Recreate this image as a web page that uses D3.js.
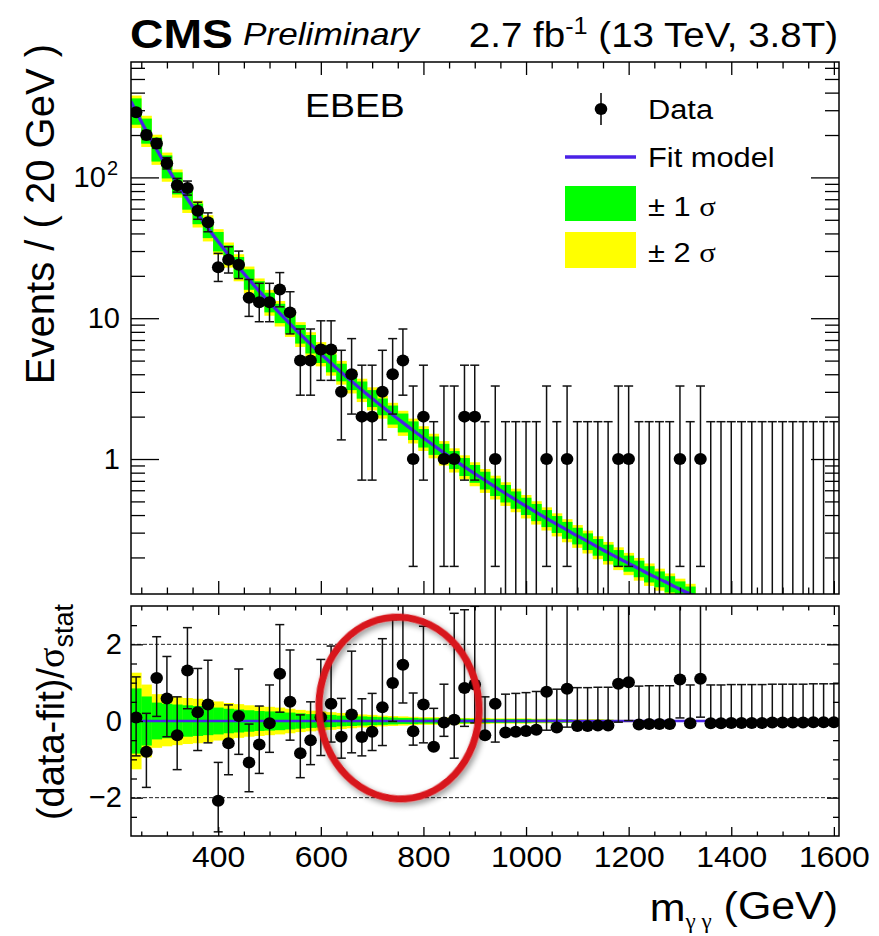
<!DOCTYPE html>
<html><head><meta charset="utf-8">
<script src="https://cdn.jsdelivr.net/npm/d3@7"></script>
<style>
body{margin:0;background:#fff}
svg{display:block}
text{font-family:"Liberation Sans",Arial,Helvetica,sans-serif;fill:#000}
</style>
</head><body>
<svg id="chart" width="879" height="936"></svg>
<script>
// Diphoton invariant-mass spectrum, EBEB category, 20 GeV bins from 230 GeV
const binLow = 230, binWidth = 20;
const counts = [290,200,174,126,88,84,58,48,23,26,
                24,14,13,13,16,11,5,5,6,6,
                3,4,2,2,3,4,5,1,2,0,
                1,1,2,2,0,1,0,0,0,0,
                1,0,1,0,0,0,0,1,1,0,
                0,0,0,1,0,1,0,0,0,0,
                0,0,0,0,0,0,0,0,0];
// (data - fit) / sigma_stat per bin
const pulls = [0.09,-0.80,1.12,0.59,-0.37,1.32,0.23,0.43,-2.08,-0.58,
               0.13,-1.08,-0.61,-0.06,1.23,0.50,-0.84,-0.50,0.10,0.45,
               -0.41,0.17,-0.42,-0.28,0.36,0.99,1.47,-0.27,0.43,-0.67,
               -0.04,0.03,0.86,0.95,-0.37,0.45,-0.30,-0.28,-0.26,-0.23,
               0.76,-0.17,0.84,-0.13,-0.13,-0.12,-0.12,0.97,1.01,-0.09,
               -0.08,-0.08,-0.08,1.08,-0.06,1.10,-0.06,-0.06,-0.05,-0.05,
               -0.05,-0.05,-0.04,-0.04,-0.04,-0.04,-0.03,-0.03,-0.03];
// fit model (events / 20 GeV) at bin edges 230, 250, ..., 1330 GeV
const fitValues = [346.7,249.1,182.7,136.4,103.5,79.7,62.1,48.96,38.99,31.35,
                   25.42,20.78,17.11,14.18,11.83,9.92,8.37,7.10,6.04,5.17,
                   4.44,3.833,3.319,2.884,2.515,2.199,1.930,1.698,1.499,1.326,
                   1.176,1.045,0.932,0.832,0.745,0.668,0.600,0.540,0.487,0.440,
                   0.398,0.361,0.328,0.298,0.272,0.248,0.226,0.207,0.189,0.174,
                   0.159,0.146,0.135,0.124,0.114,0.106];
// relative fit uncertainty per bin in the spectrum panel (1 sigma, 2 sigma)
const bandInnerRel = [0.05,0.05,0.05,0.05,0.05,0.05,0.05,0.05,0.05,0.05,
                      0.07,0.07,0.07,0.07,0.07,0.07,0.07,0.07,0.07,0.07,
                      0.07,0.07,0.07,0.07,0.07,0.09,0.09,0.09,0.09,0.09,
                      0.09,0.09,0.09,0.09,0.09,0.09,0.09,0.09,0.09,0.09,
                      0.09,0.09,0.09,0.09,0.09,0.09,0.09,0.09,0.09,0.09,
                      0.09,0.09,0.09,0.09,0.09];
const bandOuterRel = [0.10,0.10,0.10,0.10,0.10,0.10,0.10,0.10,0.10,0.10,
                      0.12,0.12,0.12,0.12,0.12,0.12,0.12,0.12,0.12,0.12,
                      0.12,0.12,0.12,0.12,0.12,0.14,0.14,0.14,0.14,0.14,
                      0.14,0.14,0.14,0.14,0.14,0.14,0.14,0.14,0.14,0.14,
                      0.14,0.14,0.14,0.14,0.14,0.14,0.14,0.14,0.14,0.14,
                      0.14,0.14,0.14,0.14,0.14];
// fit uncertainty in units of sigma_stat per bin (1 sigma, 2 sigma)
const pullBandInner = [0.85,0.64,0.48,0.45,0.43,0.41,0.39,0.37,0.35,0.32,
                       0.30,0.28,0.26,0.25,0.24,0.22,0.20,0.18,0.17,0.16,
                       0.14,0.13,0.12,0.11,0.10,0.09,0.08,0.08,0.07,0.07,
                       0.06,0.06,0.06,0.05,0.05,0.05,0.05,0.05,0.05,0.04,
                       0.04,0.04,0.04,0.03,0.03,0.03,0.03,0.02,0.02,0.015,
                       0.015,0.015,0.015,0.015,0.015,0,0,0,0,0,
                       0,0,0,0,0,0,0,0,0];
const pullBandOuter = [1.26,0.95,0.70,0.66,0.63,0.60,0.58,0.55,0.51,0.47,
                       0.44,0.41,0.39,0.37,0.35,0.32,0.29,0.27,0.25,0.23,
                       0.21,0.19,0.17,0.16,0.14,0.13,0.12,0.11,0.10,0.10,
                       0.09,0.09,0.08,0.08,0.08,0.07,0.07,0.07,0.07,0.06,
                       0.06,0.06,0.05,0.05,0.05,0.05,0.04,0.03,0.03,0.02,
                       0.02,0.02,0.02,0.02,0.02,0,0,0,0,0,
                       0,0,0,0,0,0,0,0,0];
const xMajorTicks = [400,600,800,1000,1200,1400,1600];
const yUpperMajor = [1,10,100];
const yLowerMajor = [-2,0,2];

const COL_GREEN = "#00ff00", COL_YELLOW = "#ffff00", COL_FIT = "#4a22e6";
const DOT_RX = 6.3, DOT_RY = 6.0;

// ---- Poisson (Garwood) 68% intervals for the data error bars ----
const logFact = [0];
for (let k = 1; k <= 400; k++) logFact[k] = logFact[k-1] + Math.log(k);
function poisCdf(n, mu) {
  if (mu <= 0) return 1;
  let s = 0; const lm = Math.log(mu);
  for (let k = 0; k <= n; k++) s += Math.exp(-mu + k*lm - logFact[k]);
  return s;
}
function solveMu(n, target) {
  let lo = 0, hi = n + 20*Math.sqrt(n+1) + 20;
  for (let it = 0; it < 80; it++) {
    const mid = (lo+hi)/2;
    if (poisCdf(n, mid) > target) lo = mid; else hi = mid;
  }
  return (lo+hi)/2;
}
const ALPHA = 0.158655;
function poisErr(n) {
  const up = solveMu(n, ALPHA) - n;
  const dn = n > 0 ? n - solveMu(n-1, 1-ALPHA) : 0;
  return {up, dn};
}

const bins = counts.map((n, i) => {
  const e = poisErr(n);
  return {i, n, m: binLow + binWidth*(i+0.5), lo: binLow + binWidth*i, hi: binLow + binWidth*(i+1),
          up: e.up, dn: e.dn, pull: pulls[i]};
});
const fitPts = fitValues.map((v, k) => ({m: binLow + binWidth*k, v}));

// ---- layout ----
const svg = d3.select("#chart");
const L = 131, R = 839;
const UT = 62, UB = 594, LT = 606, LB = 836;
const x = d3.scaleLinear().domain([230, 1610]).range([L, R]);
const yU = d3.scaleLog().domain([0.11, 660]).range([UB, UT]);
const yL = d3.scaleLinear().domain([-3, 3]).range([LB, LT]);

const defs = svg.append("defs");
defs.append("clipPath").attr("id","clipU").append("rect").attr("x",L).attr("y",UT).attr("width",R-L).attr("height",UB-UT);
defs.append("clipPath").attr("id","clipL").append("rect").attr("x",L).attr("y",LT).attr("width",R-L).attr("height",LB-LT);
const shadow = defs.append("filter").attr("id","shadow").attr("x","-20%").attr("y","-20%").attr("width","140%").attr("height","140%");
shadow.append("feGaussianBlur").attr("in","SourceAlpha").attr("stdDeviation",3).attr("result","b");
shadow.append("feOffset").attr("in","b").attr("dx",2).attr("dy",3).attr("result","o");
shadow.append("feComponentTransfer").attr("in","o").attr("result","s").append("feFuncA").attr("type","linear").attr("slope",0.45);
const mg = shadow.append("feMerge");
mg.append("feMergeNode").attr("in","s");
mg.append("feMergeNode").attr("in","SourceGraphic");

// ================= upper panel =================
const up = svg.append("g").attr("clip-path","url(#clipU)");
const fitBins = bins.filter(b => b.i < fitValues.length - 1);
function bandRects(rel, color) {
  up.append("g").selectAll("rect").data(fitBins).join("rect")
    .attr("x", b => x(b.lo)).attr("width", b => x(b.hi) - x(b.lo) + 0.3)
    .attr("y", b => yU(fitValues[b.i] * (1 + rel[b.i])))
    .attr("height", b => yU(fitValues[b.i+1] * (1 - rel[b.i])) - yU(fitValues[b.i] * (1 + rel[b.i])))
    .attr("fill", color);
}
bandRects(bandOuterRel, COL_YELLOW);
bandRects(bandInnerRel, COL_GREEN);

up.append("path").datum(fitPts)
  .attr("d", d3.line().x(d => x(d.m)).y(d => yU(d.v)).curve(d3.curveMonotoneX))
  .attr("fill","none").attr("stroke",COL_FIT).attr("stroke-width",3.2);

const capW = 4.5;
const eu = up.append("g").attr("stroke","#111").attr("stroke-width",1.5);
bins.forEach(b => {
  const yTop = yU(b.n + b.up);
  const yBot = b.n - b.dn > 0 ? yU(b.n - b.dn) : UB + 20;
  eu.append("line").attr("x1",x(b.m)).attr("x2",x(b.m)).attr("y1",yTop).attr("y2",yBot);
  eu.append("line").attr("x1",x(b.m)-capW).attr("x2",x(b.m)+capW).attr("y1",yTop).attr("y2",yTop);
  if (b.n - b.dn > 0)
    eu.append("line").attr("x1",x(b.m)-capW).attr("x2",x(b.m)+capW).attr("y1",yBot).attr("y2",yBot);
});
up.append("g").selectAll("ellipse").data(bins.filter(b => b.n > 0)).join("ellipse")
  .attr("cx", b => x(b.m)).attr("cy", b => yU(b.n)).attr("rx",DOT_RX).attr("ry",DOT_RY).attr("fill","#000");

// ================= lower panel =================
const lo = svg.append("g").attr("clip-path","url(#clipL)");
lo.append("g").selectAll("rect").data(bins.filter(b => pullBandOuter[b.i] > 0)).join("rect")
  .attr("x", b => x(b.lo)).attr("width", b => x(b.hi)-x(b.lo)+0.3)
  .attr("y", b => yL(pullBandOuter[b.i])).attr("height", b => yL(-pullBandOuter[b.i]) - yL(pullBandOuter[b.i]))
  .attr("fill", COL_YELLOW);
lo.append("g").selectAll("rect").data(bins.filter(b => pullBandInner[b.i] > 0)).join("rect")
  .attr("x", b => x(b.lo)).attr("width", b => x(b.hi)-x(b.lo)+0.3)
  .attr("y", b => yL(pullBandInner[b.i])).attr("height", b => yL(-pullBandInner[b.i]) - yL(pullBandInner[b.i]))
  .attr("fill", COL_GREEN);
lo.append("line").attr("x1",L).attr("x2",R).attr("y1",yL(0)).attr("y2",yL(0))
  .attr("stroke",COL_FIT).attr("stroke-width",2.6);
[-2, 2].forEach(v => lo.append("line").attr("x1",L).attr("x2",R).attr("y1",yL(v)).attr("y2",yL(v))
  .attr("stroke","#222").attr("stroke-width",1).attr("stroke-dasharray","4,2"));

const el = lo.append("g").attr("stroke","#111").attr("stroke-width",1.5);
bins.forEach(b => {
  const sig = (b.n > 0 && b.pull >= 0) ? b.dn : b.up;
  const top = b.pull + b.up/sig, bot = b.pull - b.dn/sig;
  const xm = x(b.m);
  el.append("line").attr("x1",xm).attr("x2",xm).attr("y1",yL(top)).attr("y2",yL(bot));
  el.append("line").attr("x1",xm-capW).attr("x2",xm+capW).attr("y1",yL(top)).attr("y2",yL(top));
  el.append("line").attr("x1",xm-capW).attr("x2",xm+capW).attr("y1",yL(bot)).attr("y2",yL(bot));
});
lo.append("g").selectAll("ellipse").data(bins).join("ellipse")
  .attr("cx", b => x(b.m)).attr("cy", b => yL(b.pull)).attr("rx",DOT_RX).attr("ry",DOT_RY).attr("fill","#000");

// ================= frames and axes =================
[[UT,UB],[LT,LB]].forEach(([t,b]) => svg.append("rect").attr("x",L).attr("y",t).attr("width",R-L).attr("height",b-t)
  .attr("fill","none").attr("stroke","#000").attr("stroke-width",1.5));

const xMinor = d3.range(250, 1601, 50).filter(v => !xMajorTicks.includes(v));
function styleAxis(g) { g.select(".domain").remove(); g.selectAll("line").attr("stroke","#000").attr("stroke-width",1.3); }
function xAxes(top, bottom, majLen, minLen, labels) {
  svg.append("g").attr("transform",`translate(0,${bottom})`)
    .call(d3.axisBottom(x).tickValues(xMinor).tickSize(-minLen).tickFormat("")).call(styleAxis);
  svg.append("g").attr("transform",`translate(0,${top})`)
    .call(d3.axisTop(x).tickValues(xMinor).tickSize(-minLen).tickFormat("")).call(styleAxis);
  svg.append("g").attr("transform",`translate(0,${top})`)
    .call(d3.axisTop(x).tickValues(xMajorTicks).tickSize(-majLen).tickFormat("")).call(styleAxis);
  const gb = svg.append("g").attr("transform",`translate(0,${bottom})`)
    .call(d3.axisBottom(x).tickValues(xMajorTicks).tickSize(-majLen).tickPadding(10)
      .tickFormat(labels ? d3.format("d") : "")).call(styleAxis);
  gb.selectAll("text").attr("font-size",29).attr("font-family","Liberation Sans, Arial, sans-serif")
    .attr("transform","scale(1.1,1)");
}
xAxes(UT, UB, 13, 6.5, false);
xAxes(LT, LB, 9, 4.5, true);

// upper y (log)
const yUMinor = [];
[0.1, 1, 10, 100].forEach(d => { for (let k = 2; k <= 9; k++) { const v = d*k; if (v > 0.11 && v < 660) yUMinor.push(v); } });
svg.append("g").attr("transform",`translate(${L},0)`)
  .call(d3.axisLeft(yU).tickValues(yUMinor).tickSize(-14).tickFormat("")).call(styleAxis);
svg.append("g").attr("transform",`translate(${R},0)`)
  .call(d3.axisRight(yU).tickValues(yUMinor).tickSize(-14).tickFormat("")).call(styleAxis);
svg.append("g").attr("transform",`translate(${R},0)`)
  .call(d3.axisRight(yU).tickValues(yUpperMajor).tickSize(-28).tickFormat("")).call(styleAxis);
const gyu = svg.append("g").attr("transform",`translate(${L},0)`)
  .call(d3.axisLeft(yU).tickValues(yUpperMajor).tickSize(-28).tickPadding(11).tickFormat(d => d === 100 ? "10" : String(d)))
  .call(styleAxis);
gyu.selectAll("text").attr("font-size",29).attr("font-family","Liberation Sans, Arial, sans-serif");
gyu.selectAll(".tick").filter(d => d === 100).select("text")
  .attr("x", -13).append("tspan").attr("font-size",20).attr("dy","-0.62em").attr("dx","1").text("2");

// lower y
const yLMinor = d3.range(-3, 3.01, 0.5).filter(v => !yLowerMajor.includes(v) && Math.abs(v) < 3);
svg.append("g").attr("transform",`translate(${L},0)`)
  .call(d3.axisLeft(yL).tickValues(yLMinor).tickSize(-6).tickFormat("")).call(styleAxis);
svg.append("g").attr("transform",`translate(${R},0)`)
  .call(d3.axisRight(yL).tickValues(yLMinor).tickSize(-6).tickFormat("")).call(styleAxis);
svg.append("g").attr("transform",`translate(${R},0)`)
  .call(d3.axisRight(yL).tickValues(yLowerMajor).tickSize(-12).tickFormat("")).call(styleAxis);
const gyl = svg.append("g").attr("transform",`translate(${L},0)`)
  .call(d3.axisLeft(yL).tickValues(yLowerMajor).tickSize(-12).tickPadding(9).tickFormat(d3.format("d")))
  .call(styleAxis);
gyl.selectAll("text").attr("font-size",29).attr("font-family","Liberation Sans, Arial, sans-serif");

// ================= titles and labels =================
function txt(xp, yp, s, size, opts = {}) {
  const t = svg.append("text").attr("transform",`translate(${xp},${yp}) ${opts.rot ? "rotate(-90)" : ""} scale(${opts.sx || 1},1)`)
    .attr("font-size", size).attr("text-anchor", opts.anchor || "start");
  if (opts.weight) t.attr("font-weight", opts.weight);
  if (opts.italic) t.attr("font-style","italic");
  if (s !== null) t.text(s);
  return t;
}
txt(130, 48, "CMS", 41, {weight:"bold", sx:1.13});
txt(243, 45, "Preliminary", 32, {italic:true, sx:1.1});
const lum = txt(838, 47, null, 35, {anchor:"end", sx:1.1});
lum.append("tspan").text("2.7 fb");
lum.append("tspan").attr("font-size",23).attr("dy","-0.55em").text("-1");
lum.append("tspan").attr("dy","0.37em").text(" (13 TeV, 3.8T)");

txt(305, 117, "EBEB", 34, {sx:1.1});

// legend
const lg = svg.append("g");
lg.append("line").attr("x1",601).attr("x2",601).attr("y1",93).attr("y2",125).attr("stroke","#000").attr("stroke-width",1.5);
lg.append("ellipse").attr("cx",601).attr("cy",109).attr("rx",DOT_RX).attr("ry",DOT_RY);
lg.append("line").attr("x1",565).attr("x2",636).attr("y1",157).attr("y2",157).attr("stroke",COL_FIT).attr("stroke-width",3.5);
lg.append("rect").attr("x",565).attr("y",186).attr("width",71).attr("height",35).attr("fill",COL_GREEN);
lg.append("rect").attr("x",565).attr("y",232).attr("width",71).attr("height",36).attr("fill",COL_YELLOW);
txt(648, 119, "Data", 28, {sx:1.1});
txt(648, 167, "Fit model", 28, {sx:1.1});
const s1 = txt(648, 216, null, 28, {sx:1.1});
s1.append("tspan").text("± 1 ");
s1.append("tspan").attr("font-family","Liberation Serif, serif").text("σ");
const s2 = txt(648, 262, null, 28, {sx:1.1});
s2.append("tspan").text("± 2 ");
s2.append("tspan").attr("font-family","Liberation Serif, serif").text("σ");

// axis titles
txt(54, 44, "Events / ( 20 GeV )", 40, {rot:true, anchor:"end"});
const yt2 = txt(64, 604, null, 38, {rot:true, anchor:"end"});
yt2.append("tspan").text("(data-fit)/");
yt2.append("tspan").attr("font-family","Liberation Serif, serif").text("σ");
yt2.append("tspan").attr("font-size",27).attr("dy","0.35em").text("stat");

const xt = txt(838, 921, null, 39, {anchor:"end", sx:1.1});
xt.append("tspan").text("m");
xt.append("tspan").attr("font-size",21).attr("dy","0.35em").attr("font-family","Liberation Serif, serif").text("γ  γ");
xt.append("tspan").attr("dy","-0.25em").text(" (GeV)");

// hand-drawn highlight around the 750 GeV region
svg.append("ellipse").attr("cx",399).attr("cy",708).attr("rx",80).attr("ry",91)
  .attr("transform","rotate(-4,399,708)")
  .attr("fill","none").attr("stroke","#d8141a").attr("stroke-width",7).attr("filter","url(#shadow)");
</script>
</body></html>
